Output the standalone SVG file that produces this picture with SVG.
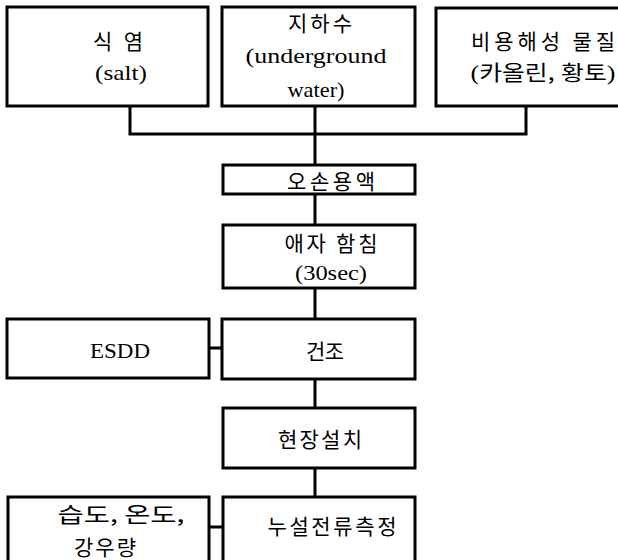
<svg xmlns="http://www.w3.org/2000/svg" width="618" height="560" viewBox="0 0 618 560">
<style>
.box{fill:#fff;stroke:#000;stroke-width:3}
.ln{fill:none;stroke:#000;stroke-width:3}
.t{font-family:"Liberation Serif",serif;font-size:22px;fill:#000;text-anchor:middle}
.k{font-family:"Noto Sans CJK KR",sans-serif;font-size:21px;fill:#000;text-anchor:middle}
</style>
<rect width="618" height="560" fill="#fff"/>
<g id="connectors">
<path class="ln" d="M130,106V134H526V106M315,106V165M315,194V225M315,288V319M209,348H222M315,379V408M315,468V497M209,527H223"/>
</g>
<g id="salt">
<rect class="box" x="7" y="7" width="201" height="99"/>
<text x="118" y="49" class="k" textLength="50" lengthAdjust="spacing">식 염</text>
<text x="121" y="80" class="t" textLength="52" lengthAdjust="spacingAndGlyphs">(salt)</text>
</g>
<g id="water">
<rect class="box" x="222" y="7" width="193" height="99"/>
<text x="320" y="31" class="k" textLength="64" lengthAdjust="spacing">지하수</text>
<text x="316" y="63" class="t" textLength="141" lengthAdjust="spacingAndGlyphs">(underground</text>
<text x="316" y="97" class="t" textLength="57" lengthAdjust="spacingAndGlyphs">water)</text>
</g>
<g id="insoluble">
<rect class="box" x="436" y="8" width="190" height="98"/>
<text x="543" y="49" class="k" textLength="144" lengthAdjust="spacing">비용해성 물질</text>
<text x="543" y="80" class="t" textLength="145" lengthAdjust="spacingAndGlyphs">(<tspan class="k">카올린,</tspan> <tspan class="k">황토</tspan>)</text>
</g>
<g id="solution">
<rect class="box" x="223" y="165" width="192" height="29"/>
<text x="331" y="189" class="k" textLength="88" lengthAdjust="spacing">오손용액</text>
</g>
<g id="dip">
<rect class="box" x="223" y="225" width="192" height="63"/>
<text x="331" y="251" class="k" textLength="93" lengthAdjust="spacing">애자 함침</text>
<text x="331" y="280" class="t" textLength="72" lengthAdjust="spacingAndGlyphs">(30sec)</text>
</g>
<g id="dry">
<rect class="box" x="222" y="319" width="193" height="60"/>
<text x="325" y="359" class="k" textLength="38" lengthAdjust="spacing">건조</text>
</g>
<g id="esdd">
<rect class="box" x="7" y="319" width="202" height="59"/>
<text x="120" y="358" class="t" textLength="60" lengthAdjust="spacingAndGlyphs">ESDD</text>
</g>
<g id="install">
<rect class="box" x="223" y="408" width="192" height="60"/>
<text x="320" y="447" class="k" textLength="84" lengthAdjust="spacing">현장설치</text>
</g>
<g id="leakage">
<rect class="box" x="223" y="497" width="192" height="70"/>
<text x="332" y="534" class="k" textLength="129" lengthAdjust="spacing">누설전류측정</text>
</g>
<g id="weather">
<rect class="box" x="8" y="497" width="201" height="70"/>
<text x="121" y="522" class="k" textLength="127" lengthAdjust="spacingAndGlyphs">습도, 온도,</text>
<text x="105" y="555" class="k" textLength="62" lengthAdjust="spacing">강우량</text>
</g>
</svg>
